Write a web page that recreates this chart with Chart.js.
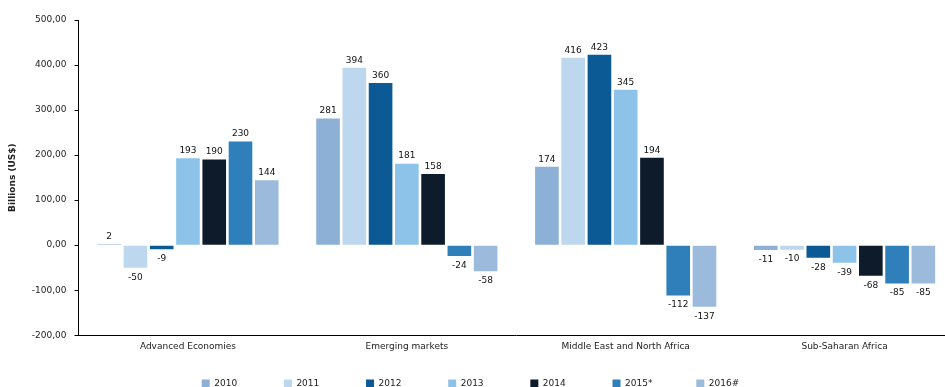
<!DOCTYPE html>
<html>
<head>
<meta charset="utf-8">
<script src="https://cdn.jsdelivr.net/npm/chart.js@4/dist/chart.umd.min.js"></script>
<style>
html, body { margin: 0; padding: 0; overflow: hidden; background: #fff; }
#wrap { width: 960px; height: 398px; }
</style>
</head>
<body>
<div id="wrap"><canvas id="barChart"></canvas></div>
<script>
const regions = ["Advanced Economies", "Emerging markets", "Middle East and North Africa", "Sub-Saharan Africa"];
const years = ["2010", "2011", "2012", "2013", "2014", "2015*", "2016#"];

const v2010 = [2, 281, 174, -11];
const v2011 = [-50, 394, 416, -10];
const v2012 = [-9, 360, 423, -28];
const v2013 = [193, 181, 345, -39];
const v2014 = [190, 158, 194, -68];
const v2015 = [230, -24, -112, -85];
const v2016 = [144, -58, -137, -85];

const yTicks = [-200, -100, 0, 100, 200, 300, 400, 500];

const colors = ["#8db0d6", "#bdd7ee", "#0b5a96", "#8dc3e8", "#0e1b2b", "#2f7fba", "#9bbadc"];
const series = [v2010, v2011, v2012, v2013, v2014, v2015, v2016];

const FONT = "'DejaVu Sans', Verdana, sans-serif";
Chart.defaults.font.family = FONT;
Chart.defaults.font.size = 9;
Chart.defaults.color = "#222";

// pad legend text with spaces so every entry takes the same width
const measureCtx = document.createElement("canvas").getContext("2d");
measureCtx.font = "9px " + FONT;
const spaceW = measureCtx.measureText(" ").width;
function padText(t, target) {
    let n = Math.max(0, Math.round((target - measureCtx.measureText(t).width) / spaceW));
    return t + " ".repeat(n);
}

// value labels above / below each bar
const barLabels = {
    id: "barLabels",
    afterDatasetsDraw(chart) {
        const ctx = chart.ctx;
        ctx.save();
        ctx.font = "9px " + FONT;
        ctx.fillStyle = "#111";
        ctx.textAlign = "center";
        chart.data.datasets.forEach((ds, i) => {
            chart.getDatasetMeta(i).data.forEach((bar, j) => {
                const val = ds.data[j];
                if (val >= 0) {
                    ctx.textBaseline = "bottom";
                    ctx.fillText(val, bar.x, bar.y - 3);
                } else {
                    ctx.textBaseline = "top";
                    ctx.fillText(val, bar.x, bar.y + 5);
                }
            });
        });
        ctx.restore();
    }
};

new Chart(document.getElementById("barChart"), {
    type: "bar",
    data: {
        labels: regions,
        datasets: years.map((y, i) => ({
            label: y,
            data: series[i],
            backgroundColor: colors[i],
            borderWidth: 0,
            categoryPercentage: 0.84,
            barPercentage: 0.9
        }))
    },
    options: {
        responsive: true,
        maintainAspectRatio: false,
        animation: false,
        layout: { padding: { top: 20, right: 6, left: 7, bottom: 0 } },
        plugins: {
            tooltip: { enabled: false },
            legend: {
                position: "bottom",
                labels: {
                    boxWidth: 8,
                    boxHeight: 8,
                    padding: 21,
                    font: { size: 9 },
                    generateLabels: chart => {
                        const items = Chart.defaults.plugins.legend.labels.generateLabels(chart);
                        items.forEach(it => { it.text = padText(it.text, 49.5); });
                        return items;
                    }
                }
            }
        },
        scales: {
            x: {
                grid: { display: false, drawTicks: false },
                border: { display: true, color: "#000", width: 1 },
                ticks: { padding: 6 }
            },
            y: {
                min: -200,
                max: 500,
                afterBuildTicks: axis => { axis.ticks = yTicks.map(v => ({ value: v })); },
                grid: { drawOnChartArea: false, drawTicks: true, tickLength: 4, color: "#000" },
                border: { display: true, color: "#000", width: 1 },
                ticks: {
                    padding: 8,
                    callback: v => v.toFixed(2).replace(".", ",")
                },
                title: {
                    display: true,
                    text: "Billions (US$)",
                    font: { size: 9, weight: "bold" },
                    padding: { top: 0, bottom: 6 }
                }
            }
        }
    },
    plugins: [barLabels]
});
</script>
</body>
</html>
